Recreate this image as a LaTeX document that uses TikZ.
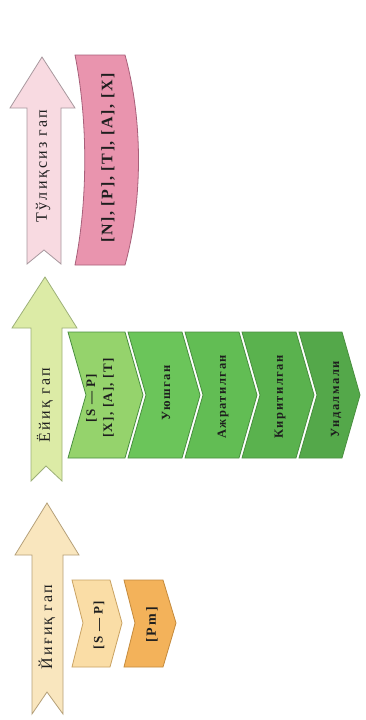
\documentclass[tikz,border=0pt]{standalone}
\usepackage{fontspec}
\setmainfont{Liberation Serif}
\definecolor{creamA}{HTML}{F9E6BE}
\definecolor{creamAb}{HTML}{B5A079}
\definecolor{greenA}{HTML}{DCEBA6}
\definecolor{greenAb}{HTML}{9DB078}
\definecolor{pinkA}{HTML}{F8DAE1}
\definecolor{pinkAb}{HTML}{A8989E}
\definecolor{creamC}{HTML}{FADDA6}
\definecolor{creamCb}{HTML}{C9A262}
\definecolor{orangeC}{HTML}{F3B25A}
\definecolor{orangeCb}{HTML}{C48A3C}
\definecolor{gA}{HTML}{95D36C}
\definecolor{gB}{HTML}{6BC55A}
\definecolor{gC}{HTML}{62BD54}
\definecolor{gD}{HTML}{5AB24E}
\definecolor{gE}{HTML}{54A84A}
\definecolor{gbord}{HTML}{4A8F40}
\definecolor{pinkC}{HTML}{E994AE}
\definecolor{pinkCb}{HTML}{A8607A}
\definecolor{ink}{HTML}{1E1E1E}
\begin{document}
\begin{tikzpicture}[x=1pt,y=-1pt,
  lbl/.style={rotate=90, inner sep=0pt, text=ink, align=center},
  arrowlbl/.style={lbl, font=\fontsize{16}{17}\selectfont\addfontfeatures{LetterSpace=14}},
  chevlbl/.style={lbl, font=\fontsize{12.5}{13}\selectfont\bfseries\addfontfeatures{LetterSpace=12}},
  codelbl/.style={lbl, font=\fontsize{13}{15}\selectfont\bfseries\addfontfeatures{LetterSpace=10}},
  shapeline/.style={line width=0.8pt, line join=miter}
]
\useasboundingbox (0,0) rectangle (366,720);
\fill[white] (0,0) rectangle (366,720);

% ---- big arrows ----
\draw[shapeline, fill=pinkA, draw=pinkAb]
  (42,57) -- (75,108) -- (61,108) -- (61,264) -- (44,250) -- (27,264) -- (27,108) -- (10,108) -- cycle;
\draw[shapeline, fill=greenA, draw=greenAb]
  (45,277) -- (77,328) -- (62,328) -- (62,481) -- (46,466) -- (31,481) -- (31,328) -- (12,328) -- cycle;
\draw[shapeline, fill=creamA, draw=creamAb]
  (47,503) -- (79,555) -- (63,555) -- (63,714) -- (47,692) -- (32,714) -- (32,555) -- (15,555) -- cycle;

\node[arrowlbl] (tA) at (43,166) {Тўлиқсиз гап};
\node[arrowlbl] (tB) at (45,405) {Ёйиқ гап};
\node[arrowlbl] (tC) at (47,627) {Йиғиқ гап};

% ---- pink curved chevron ----
\draw[shapeline, fill=pinkC, draw=pinkCb]
  (75,55) -- (125,55) .. controls (143,120) and (143,200) .. (125,265)
  -- (75,265) .. controls (88,200) and (88,120) .. (75,55) -- cycle;
\node[codelbl, font=\fontsize{16}{17}\selectfont\bfseries\addfontfeatures{LetterSpace=10}] (pk) at (108,158) {[N], [P], [T], [A], [X]};

% ---- green chevrons ----
\foreach \a/\b/\c/\n in {68/143/gA/g1, 128/200/gB/g2, 185/257/gC/g3, 242/314/gD/g4, 299/360/gE/g5}{
  \draw[shapeline, fill=\c, draw=gbord]
    (\a,332) -- ({\b-18},332) -- (\b,395) -- ({\b-18},458) -- (\a,458) -- ({\a+18},395) -- cycle;
}
\node[codelbl, font=\fontsize{13}{17}\selectfont\bfseries\addfontfeatures{LetterSpace=10}] (c1) at (100,398) {[S — P]\\{}[X], [A], [T]};
\node[chevlbl] (c2) at (166,393) {Уюшган};
\node[chevlbl] (c3) at (223,397) {Ажратилган};
\node[chevlbl] (c4) at (280,397) {Киритилган};
\node[chevlbl] (c5) at (336,399) {Ундалмали};

% ---- bottom chevrons ----
\draw[shapeline, fill=creamC, draw=creamCb]
  (72,580) -- (110,580) -- (122,623) -- (110,667) -- (72,667) -- (83,623) -- cycle;
\draw[shapeline, fill=orangeC, draw=orangeCb]
  (124,580) -- (163,580) -- (176,623) -- (163,667) -- (124,667) -- (135,623) -- cycle;
\node[codelbl] (b1) at (99,625) {[S — P]};
\node[codelbl, font=\fontsize{14}{15}\selectfont\bfseries\addfontfeatures{LetterSpace=14}] (b2) at (152,625) {[Pm]};
\end{tikzpicture}
\end{document}
